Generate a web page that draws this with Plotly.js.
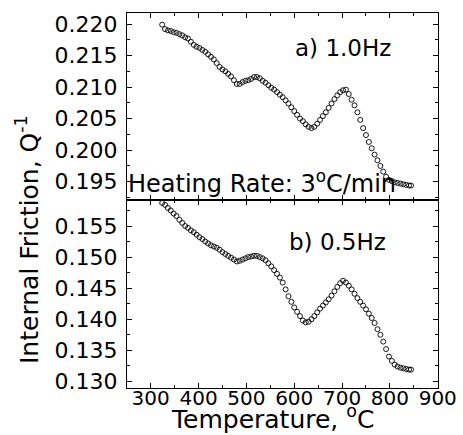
<!DOCTYPE html>
<html>
<head>
<meta charset="utf-8">
<script src="https://cdn.plot.ly/plotly-3.0.1.min.js"></script>
<style>html,body{margin:0;padding:0;background:#fff;}#chart{width:463px;height:435px;}</style>
</head>
<body>
<div id="chart"></div>
<script>
// Temperature (°C)
var temperature = [324,330,336,342,348,354,360,366,372,378,384,390,396,402,408,414,420,426,432,438,444,450,456,462,468,474,480,486,492,498,504,510,516,522,528,534,540,546,552,558,564,570,576,582,588,594,600,606,612,618,624,630,636,642,648,654,660,666,672,678,684,690,696,702,708,714,720,726,732,738,744,750,756,762,768,774,780,786,792,798,804,810,816,822,828,834,840,844];

// a) 1.0 Hz internal friction Q^-1
var q_1p0Hz = [0.2199,0.2192,0.2190,0.2189,0.2187,0.2186,0.2184,0.2182,0.2179,0.2177,0.2172,0.2167,0.2164,0.2162,0.2159,0.2156,0.2152,0.2148,0.2144,0.2138,0.2132,0.2128,0.2125,0.2121,0.2117,0.2111,0.2105,0.2105,0.2108,0.2110,0.2111,0.2113,0.2116,0.2116,0.2114,0.2110,0.2107,0.2103,0.2099,0.2096,0.2092,0.2088,0.2084,0.2079,0.2074,0.2068,0.2062,0.2056,0.2050,0.2046,0.2041,0.2037,0.2035,0.2037,0.2042,0.2048,0.2054,0.2060,0.2067,0.2074,0.2081,0.2087,0.2092,0.2095,0.2096,0.2089,0.2080,0.2071,0.2060,0.2048,0.2035,0.2024,0.2013,0.2003,0.1993,0.1984,0.1975,0.1966,0.1958,0.1953,0.1951,0.1949,0.1948,0.1947,0.1946,0.1945,0.1944,0.1944];

// b) 0.5 Hz internal friction Q^-1
var q_0p5Hz = [0.1587,0.1584,0.1579,0.1575,0.1570,0.1566,0.1560,0.1555,0.1550,0.1547,0.1543,0.1540,0.1536,0.1532,0.1529,0.1525,0.1522,0.1519,0.1517,0.1515,0.1512,0.1508,0.1505,0.1502,0.1499,0.1496,0.1493,0.1494,0.1496,0.1498,0.1500,0.1501,0.1502,0.1502,0.1500,0.1498,0.1495,0.1490,0.1485,0.1479,0.1473,0.1467,0.1459,0.1448,0.1437,0.1428,0.1419,0.1412,0.1405,0.1398,0.1395,0.1396,0.1400,0.1405,0.1411,0.1417,0.1422,0.1427,0.1432,0.1438,0.1445,0.1452,0.1458,0.1462,0.1459,0.1454,0.1448,0.1441,0.1434,0.1428,0.1422,0.1416,0.1409,0.1402,0.1394,0.1384,0.1375,0.1364,0.1352,0.1340,0.1333,0.1327,0.1324,0.1322,0.1321,0.1320,0.1319,0.1319];

var xTickVals = [300,400,500,600,700,800,900];
var yTopTicks = [0.195,0.200,0.205,0.210,0.215,0.220];
var yBotTicks = [0.130,0.135,0.140,0.145,0.150,0.155];

var FONT = 'DejaVu Sans, Arial, sans-serif';
var markerStyle = {symbol:'circle-open', size:5, color:'black', line:{width:0.9, color:'black'}};

var traces = [
  {x: temperature, y: q_1p0Hz, xaxis:'x2', yaxis:'y2', mode:'markers', type:'scatter', marker: markerStyle, name:'1.0Hz', showlegend:false},
  {x: temperature, y: q_0p5Hz, xaxis:'x', yaxis:'y', mode:'markers', type:'scatter', marker: markerStyle, name:'0.5Hz', showlegend:false}
];

var commonX = {
  range:[250.5, 900.5], tickmode:'array', tickvals:xTickVals,
  ticks:'inside', ticklen:5, tickwidth:1, tickcolor:'black',
  minor:{dtick:50, tick0:300, ticks:'inside', ticklen:3, tickcolor:'black'},
  showline:true, linecolor:'black', linewidth:1, mirror:'ticks',
  showgrid:false, zeroline:false
};
var commonY = {
  tickmode:'array', tickformat:'.3f',
  ticks:'inside', ticklen:5, tickwidth:1, tickcolor:'black',
  showline:true, linecolor:'black', linewidth:1, mirror:'ticks',
  showgrid:false, zeroline:false,
  tickfont:{family:FONT, size:22, color:'black'}, ticklabelstandoff:4
};

var layout = {
  width:463, height:435,
  margin:{l:127, r:25, t:13, b:47},
  paper_bgcolor:'white', plot_bgcolor:'white',
  showlegend:false,
  xaxis: Object.assign({}, commonX, {anchor:'y', tickfont:{family:FONT, size:20, color:'black'}, ticklabelstandoff:-8}),
  xaxis2: Object.assign({}, commonX, {anchor:'y2', matches:'x', showticklabels:false}),
  yaxis: Object.assign({}, commonY, {domain:[0, 0.5013], range:[0.12894, 0.15918], tickvals:yBotTicks, anchor:'x',
      minor:{tick0:0.1275, dtick:0.0025, ticks:'inside', ticklen:3, tickcolor:'black'}}),
  yaxis2: Object.assign({}, commonY, {domain:[0.5013, 1], range:[0.19210, 0.22175], tickvals:yTopTicks, anchor:'x2',
      minor:{tick0:0.1925, dtick:0.0025, ticks:'inside', ticklen:3, tickcolor:'black'}}),
  annotations:[
    {text:'a) 1.0Hz', xref:'paper', yref:'paper', x:0.6945, y:0.9067, xanchor:'center', yanchor:'middle', showarrow:false, font:{family:FONT, size:23, color:'black'}},
    {text:'b) 0.5Hz', xref:'paper', yref:'paper', x:0.678, y:0.389, xanchor:'center', yanchor:'middle', showarrow:false, font:{family:FONT, size:23, color:'black'}},
    {text:'Heating Rate: 3<sup>o</sup>C/min', xref:'paper', yref:'paper', x:-0.003, y:0.549, xanchor:'left', yanchor:'middle', showarrow:false, font:{family:FONT, size:24, color:'black'}},
    {text:'Temperature, <sup>o</sup>C', xref:'paper', yref:'paper', x:(272-127)/311, y:(388-435)/375, xanchor:'center', yanchor:'bottom', borderpad:0, showarrow:false, font:{family:FONT, size:25, color:'black'}},
    {text:'Internal Friction, Q<sup>-1</sup>', xref:'paper', yref:'paper', x:(28-127)/311, y:(388-240)/375, xanchor:'center', yanchor:'middle', textangle:-90, showarrow:false, font:{family:FONT, size:25, color:'black'}}
  ]
};

Plotly.newPlot('chart', traces, layout, {staticPlot:true, displayModeBar:false});
</script>
</body>
</html>
